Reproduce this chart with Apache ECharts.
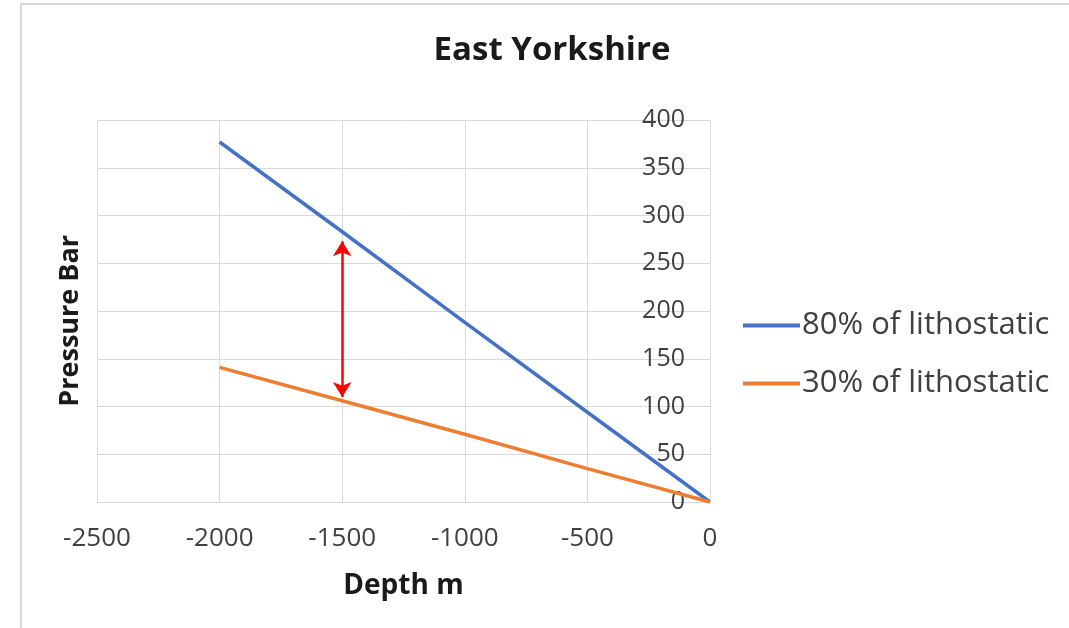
<!DOCTYPE html>
<html>
<head>
<meta charset="utf-8">
<script src="https://cdn.jsdelivr.net/npm/echarts@6/dist/echarts.min.js"></script>
<style>
  html, body { margin: 0; padding: 0; background: #fff; }
  #frame { position: absolute; left: 20px; top: 3px; width: 1100px; height: 700px;
           border-left: 2px solid #d9d9d9; border-top: 2px solid #d9d9d9; }
  #chart { position: absolute; left: 0; top: 0; width: 1069px; height: 628px; }
</style>
</head>
<body>
<div id="frame"></div>
<div id="chart"></div>
<script>
// Depth below surface (m) and the two pressure gradients (bar)
const depths = [-2000, -1500, -1000, -500, 0];
const pressure80 = [377, 283, 188, 94, 0];
const pressure30 = [141, 106, 71, 35, 0];
const seriesNames = ['80% of lithostatic', '30% of lithostatic'];
// Double-headed arrow marking the gap between the two gradients at -1500 m
const gapArrow = [[-1500, 110], [-1500, 273]];

const font = 'Open Sans, Noto Sans, sans-serif';
const chart = echarts.init(document.getElementById('chart'));
chart.setOption({
  animation: false,
  backgroundColor: 'transparent',
  title: {
    text: 'East Yorkshire',
    left: 547, top: 29, textAlign: 'center',
    textStyle: { fontFamily: font, fontWeight: 'bold', fontSize: 33, color: '#1a1a1a' }
  },
  legend: {
    orient: 'vertical', left: 738, top: 305,
    data: seriesNames,
    icon: 'rect',
    itemWidth: 57, itemHeight: 4, itemGap: 27,
    textStyle: { fontFamily: font, fontSize: 31, color: '#404040', padding: [0, 0, 0, -3] }
  },
  grid: { left: 97, right: 359, top: 120, bottom: 126 },
  xAxis: {
    type: 'value', min: -2500, max: 0, interval: 500,
    name: 'Depth m', nameLocation: 'middle', nameGap: 70,
    nameTextStyle: { fontFamily: font, fontWeight: 'bold', fontSize: 28, color: '#1a1a1a' },
    axisLine: { show: true, onZero: false, lineStyle: { color: '#d9d9d9', width: 1 } },
    axisTick: { show: false },
    splitLine: { show: true, lineStyle: { color: '#d9d9d9', width: 1 } },
    axisLabel: { fontFamily: font, fontSize: 26, color: '#404040', margin: 24,
                 formatter: v => String(v) }
  },
  yAxis: {
    type: 'value', min: 0, max: 400, interval: 50, position: 'right',
    axisLine: { show: false },
    axisTick: { show: false },
    splitLine: { show: true, lineStyle: { color: '#d9d9d9', width: 1 } },
    axisLabel: { inside: true, fontFamily: font, fontSize: 25, color: '#404040', margin: 25,
                 formatter: v => String(v) }
  },
  graphic: [{
    type: 'text', left: 57, top: 235, rotation: Math.PI / 2,
    style: { text: 'Pressure Bar', fontFamily: font, fontWeight: 'bold', fontSize: 27, fill: '#1a1a1a' }
  }],
  series: [
    {
      name: seriesNames[0], type: 'line', symbol: 'none',
      data: depths.map((d, i) => [d, pressure80[i]]),
      lineStyle: { color: '#4472c4', width: 3.5 }, itemStyle: { color: '#4472c4' }
    },
    {
      name: seriesNames[1], type: 'line', symbol: 'none',
      data: depths.map((d, i) => [d, pressure30[i]]),
      lineStyle: { color: '#ed7d31', width: 3.5 }, itemStyle: { color: '#ed7d31' }
    },
    {
      name: 'gap', type: 'line', data: [], silent: true,
      markLine: {
        silent: true, symbol: ['arrow', 'arrow'], symbolSize: [14, 15],
        label: { show: false },
        lineStyle: { color: '#ff0000', width: 2.5, type: 'solid' },
        data: [[{ coord: gapArrow[0] }, { coord: gapArrow[1] }]]
      }
    }
  ]
});
</script>
</body>
</html>
